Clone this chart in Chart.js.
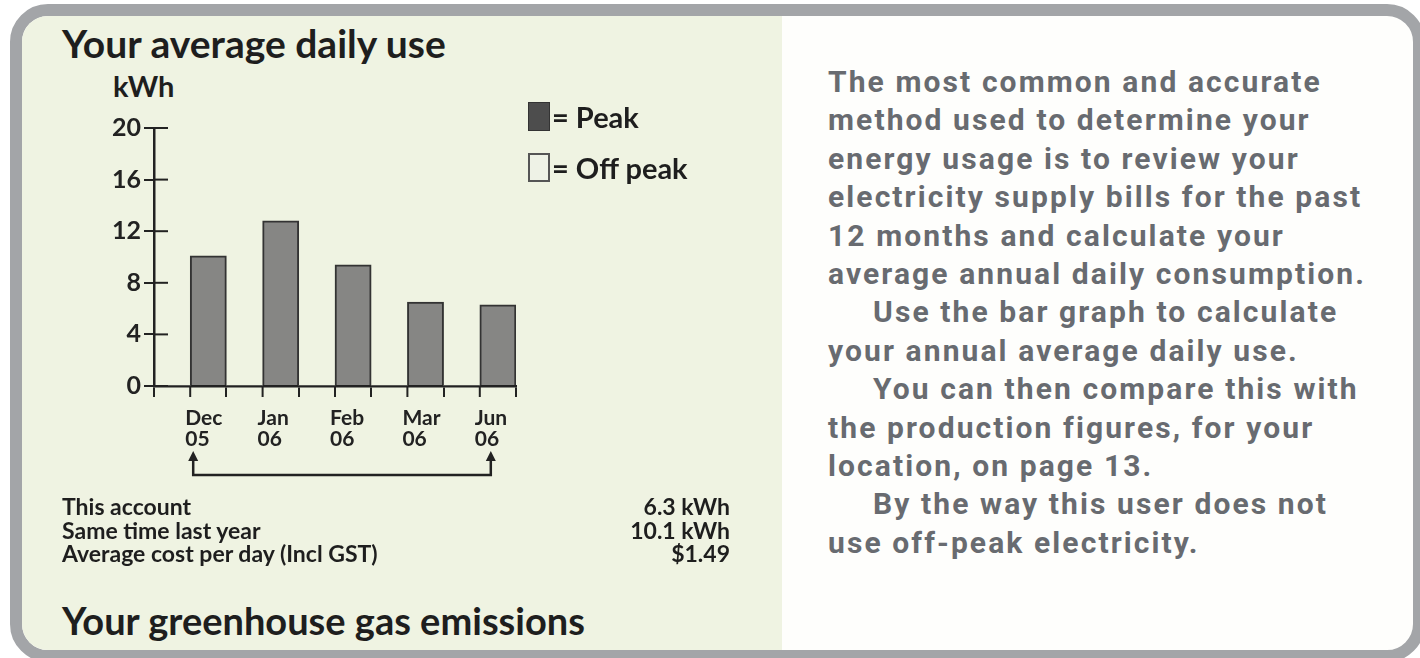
<!DOCTYPE html>
<html>
<head>
<meta charset="utf-8">
<script src="https://cdn.jsdelivr.net/npm/chart.js"></script>
<style>
  html, body { margin: 0; padding: 0; background: #fff; }
  body { width: 1420px; height: 658px; position: relative; overflow: hidden; }
  .frame {
    position: absolute; left: 10px; top: 4px; width: 1391px; height: 634px;
    border: 12px solid #a3a5a8; border-radius: 38px; overflow: hidden; background: #fefefc;
  }
  .leftpanel { position: absolute; left: 0; top: 0; width: 760px; height: 100%; background: #eff3e2; }
  .dark { color: #1e1e1e; font-family: Lato, "Open Sans", sans-serif; font-weight: 700; position: absolute; white-space: nowrap; }
  #chartbox { position: absolute; left: 90px; top: 96px; width: 470px; height: 400px; }
  .legend { position: absolute; left: 528px; font-family: Lato, sans-serif; font-weight: 700; font-size: 29px; color: #1e1e1e; }
  .legend .sw { position: absolute; left: 0; width: 22px; height: 29px; box-sizing: border-box; }
  .legend span.t { position: absolute; left: 24px; white-space: nowrap; line-height: 29px; }
  .rows { position: absolute; left: 62px; top: 495px; width: 668px; font-family: Lato, sans-serif; font-weight: 700; font-size: 23px; color: #1e1e1e; line-height: 23.5px; }
  .rows div { display: flex; justify-content: space-between; }
  .para { position: absolute; left: 828px; top: 63px; font-family: Roboto, "Liberation Sans", sans-serif; font-weight: 700; font-size: 30px; line-height: 38.4px; color: #686b70; white-space: nowrap; letter-spacing: 2.1px; }
  .para .in { padding-left: 45px; }
</style>
</head>
<body>
<div class="frame"><div class="leftpanel"></div></div>

<div class="dark" style="left:62px; top:20px; font-size:39px;">Your average daily use</div>
<div class="dark" style="left:113px; top:68px; font-size:29px;">kWh</div>

<div id="chartbox"><canvas id="visualization"></canvas></div>

<div class="legend" style="top:102px;"><div class="sw" style="background:#4d4d4d; border:1px solid #333;"></div><span class="t">= Peak</span></div>
<div class="legend" style="top:153px;"><div class="sw" style="background:#eef2e6; border:2px solid #555;"></div><span class="t">= Off peak</span></div>

<div class="rows">
  <div><span>This account</span><span>6.3 kWh</span></div>
  <div><span>Same time last year</span><span>10.1 kWh</span></div>
  <div><span>Average cost per day (Incl GST)</span><span>$1.49</span></div>
</div>
<div class="dark" style="left:62px; top:597px; font-size:38px;">Your greenhouse gas emissions</div>

<div class="para">
  <div>The most common and accurate</div>
  <div>method used to determine your</div>
  <div>energy usage is to review your</div>
  <div>electricity supply bills for the past</div>
  <div>12 months and calculate your</div>
  <div>average annual daily consumption.</div>
  <div class="in">Use the bar graph to calculate</div>
  <div>your annual average daily use.</div>
  <div class="in">You can then compare this with</div>
  <div>the production figures, for your</div>
  <div>location, on page 13.</div>
  <div class="in">By the way this user does not</div>
  <div>use off-peak electricity.</div>
</div>

<script>
const months = [['Dec', '05'], ['Jan', '06'], ['Feb', '06'], ['Mar', '06'], ['Jun', '06']];
const peakUse = [10.1, 12.8, 9.4, 6.5, 6.3];
const offPeakUse = [0, 0, 0, 0, 0];
const yTicks = [0, 4, 8, 12, 16, 20];

const ink = '#222';

// extra tick marks (inside the y axis, at bar starts on x) and the period bracket
const axisMarks = {
    id: 'axisMarks',
    afterDraw(chart) {
        const ctx = chart.ctx;
        const x = chart.scales.x;
        const y = chart.scales.y;
        const area = chart.chartArea;
        ctx.save();
        ctx.strokeStyle = ink;
        ctx.fillStyle = ink;
        ctx.lineWidth = 2;
        y.ticks.forEach((t) => {
            const py = y.getPixelForValue(t.value);
            ctx.beginPath();
            ctx.moveTo(area.left, py);
            ctx.lineTo(area.left + 14, py);
            ctx.stroke();
        });
        months.forEach((m, i) => {
            const px = x.getPixelForValue(i);
            ctx.beginPath();
            ctx.moveTo(px, area.bottom);
            ctx.lineTo(px, area.bottom + 11);
            ctx.stroke();
        });
        // bracket from first to last month
        const x0 = x.getPixelForValue(0) + 3;
        const x1 = x.getPixelForValue(months.length - 1) + 11;
        const yb = area.bottom + 89;
        const yt = area.bottom + 65;
        ctx.lineWidth = 2.5;
        ctx.beginPath();
        ctx.moveTo(x0, yt + 6);
        ctx.lineTo(x0, yb);
        ctx.lineTo(x1, yb);
        ctx.lineTo(x1, yt + 6);
        ctx.stroke();
        [x0, x1].forEach((ax) => {
            ctx.beginPath();
            ctx.moveTo(ax, yt);
            ctx.lineTo(ax - 5, yt + 10);
            ctx.lineTo(ax + 5, yt + 10);
            ctx.closePath();
            ctx.fill();
        });
        ctx.restore();
    }
};

const data = {
    labels: months,
    datasets: [
        {
            label: 'Off peak',
            data: offPeakUse,
            backgroundColor: '#eef2e6',
            borderColor: '#555',
            borderWidth: 0,
        },
        {
            label: 'Peak',
            data: peakUse,
            backgroundColor: '#868684',
            borderColor: '#333',
            borderWidth: 2,
        },
    ]
};

const config = {
    type: 'bar',
    data: data,
    options: {
        responsive: true,
        maintainAspectRatio: false,
        animation: false,
        datasets: {
            bar: { categoryPercentage: 1, barPercentage: 1 }
        },
        layout: { padding: { left: 0, right: 44, top: 32, bottom: 0 } },
        scales: {
            x: {
                afterFit(scale) { scale.height = 110; },
                grid: { offset: true, drawOnChartArea: false, tickLength: 11, color: ink, lineWidth: 2 },
                border: { display: true, color: ink, width: 2.5 },
                ticks: {
                    color: ink,
                    font: { family: 'Lato', weight: 'bold', size: 21, lineHeight: 1.0 },
                    align: 'start',
                    labelOffset: -5,
                    padding: 11,
                }
            },
            y: {
                min: 0,
                max: 20,
                afterFit(scale) { scale.width = 64; },
                afterBuildTicks(scale) { scale.ticks = yTicks.map((v) => ({ value: v })); },
                grid: { drawOnChartArea: false, tickLength: 10, color: ink, lineWidth: 2 },
                border: { display: true, color: ink, width: 2.5 },
                ticks: {
                    color: ink,
                    font: { family: 'Lato', weight: 'bold', size: 25 },
                    padding: 3,
                }
            }
        },
        plugins: {
            legend: { display: false },
            tooltip: { enabled: false }
        }
    },
    plugins: [axisMarks]
};

new Chart(document.getElementById('visualization'), config);
</script>
</body>
</html>
